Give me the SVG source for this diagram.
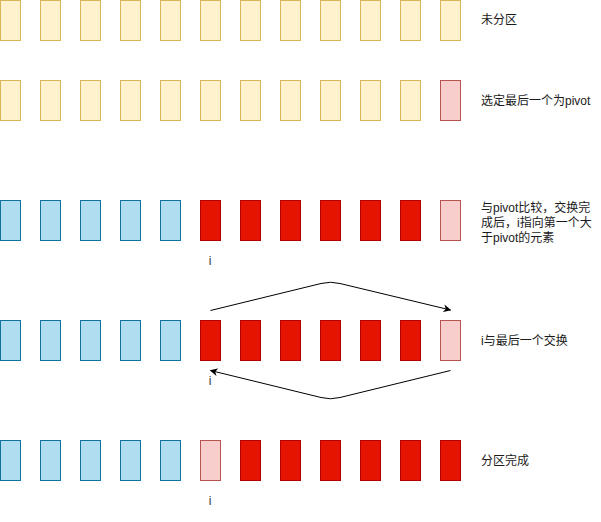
<svg xmlns="http://www.w3.org/2000/svg" width="601" height="522" viewBox="0 0 601 522">
<defs>
<style>
.y{fill:#fff2cc;stroke:#d6b656}
.p{fill:#f8cecc;stroke:#b85450}
.b{fill:#b1ddf0;stroke:#10739e}
.r{fill:#e51400;stroke:#b20000}
rect{stroke-width:1}
.t{font-family:"Liberation Sans","Noto Sans CJK SC",sans-serif;font-size:12px;fill:#1a1a1a}
.i{font-family:"Liberation Sans","Noto Sans CJK SC",sans-serif;font-size:12px;fill:#333;text-anchor:middle}
.c{fill:none;stroke:#000;stroke-width:1}
</style>
<marker id="ah" viewBox="0 0 10 10" refX="9" refY="5" markerWidth="8" markerHeight="8" orient="auto" markerUnits="userSpaceOnUse">
<path d="M0,0 L10,5 L0,10 L3,5 Z" fill="#000"/>
</marker>
</defs>
<g id="row1">
<rect class="y" x="0.5" y="0.5" width="20" height="40"/>
<rect class="y" x="40.5" y="0.5" width="20" height="40"/>
<rect class="y" x="80.5" y="0.5" width="20" height="40"/>
<rect class="y" x="120.5" y="0.5" width="20" height="40"/>
<rect class="y" x="160.5" y="0.5" width="20" height="40"/>
<rect class="y" x="200.5" y="0.5" width="20" height="40"/>
<rect class="y" x="240.5" y="0.5" width="20" height="40"/>
<rect class="y" x="280.5" y="0.5" width="20" height="40"/>
<rect class="y" x="320.5" y="0.5" width="20" height="40"/>
<rect class="y" x="360.5" y="0.5" width="20" height="40"/>
<rect class="y" x="400.5" y="0.5" width="20" height="40"/>
<rect class="y" x="440.5" y="0.5" width="20" height="40"/>
<text class="t" x="481" y="24">未分区</text>
</g>
<g id="row2">
<rect class="y" x="0.5" y="80.5" width="20" height="40"/>
<rect class="y" x="40.5" y="80.5" width="20" height="40"/>
<rect class="y" x="80.5" y="80.5" width="20" height="40"/>
<rect class="y" x="120.5" y="80.5" width="20" height="40"/>
<rect class="y" x="160.5" y="80.5" width="20" height="40"/>
<rect class="y" x="200.5" y="80.5" width="20" height="40"/>
<rect class="y" x="240.5" y="80.5" width="20" height="40"/>
<rect class="y" x="280.5" y="80.5" width="20" height="40"/>
<rect class="y" x="320.5" y="80.5" width="20" height="40"/>
<rect class="y" x="360.5" y="80.5" width="20" height="40"/>
<rect class="y" x="400.5" y="80.5" width="20" height="40"/>
<rect class="p" x="440.5" y="80.5" width="20" height="40"/>
<text class="t" x="481" y="105">选定最后一个为pivot</text>
</g>
<g id="row3">
<rect class="b" x="0.5" y="200.5" width="20" height="40"/>
<rect class="b" x="40.5" y="200.5" width="20" height="40"/>
<rect class="b" x="80.5" y="200.5" width="20" height="40"/>
<rect class="b" x="120.5" y="200.5" width="20" height="40"/>
<rect class="b" x="160.5" y="200.5" width="20" height="40"/>
<rect class="r" x="200.5" y="200.5" width="20" height="40"/>
<rect class="r" x="240.5" y="200.5" width="20" height="40"/>
<rect class="r" x="280.5" y="200.5" width="20" height="40"/>
<rect class="r" x="320.5" y="200.5" width="20" height="40"/>
<rect class="r" x="360.5" y="200.5" width="20" height="40"/>
<rect class="r" x="400.5" y="200.5" width="20" height="40"/>
<rect class="p" x="440.5" y="200.5" width="20" height="40"/>
<text class="i" x="210" y="265">i</text>
<text class="t" x="481" y="212">与pivot比较，交换完</text>
<text class="t" x="481" y="227">成后，i指向第一个大</text>
<text class="t" x="481" y="242">于pivot的元素</text>
</g>
<g id="row4">
<rect class="b" x="0.5" y="320.5" width="20" height="40"/>
<rect class="b" x="40.5" y="320.5" width="20" height="40"/>
<rect class="b" x="80.5" y="320.5" width="20" height="40"/>
<rect class="b" x="120.5" y="320.5" width="20" height="40"/>
<rect class="b" x="160.5" y="320.5" width="20" height="40"/>
<rect class="r" x="200.5" y="320.5" width="20" height="40"/>
<rect class="r" x="240.5" y="320.5" width="20" height="40"/>
<rect class="r" x="280.5" y="320.5" width="20" height="40"/>
<rect class="r" x="320.5" y="320.5" width="20" height="40"/>
<rect class="r" x="360.5" y="320.5" width="20" height="40"/>
<rect class="r" x="400.5" y="320.5" width="20" height="40"/>
<rect class="p" x="440.5" y="320.5" width="20" height="40"/>
<text class="i" x="210" y="385">i</text>
<text class="t" x="481" y="345">i与最后一个交换</text>
</g>
<g id="row5">
<rect class="b" x="0.5" y="440.5" width="20" height="40"/>
<rect class="b" x="40.5" y="440.5" width="20" height="40"/>
<rect class="b" x="80.5" y="440.5" width="20" height="40"/>
<rect class="b" x="120.5" y="440.5" width="20" height="40"/>
<rect class="b" x="160.5" y="440.5" width="20" height="40"/>
<rect class="p" x="200.5" y="440.5" width="20" height="40"/>
<rect class="r" x="240.5" y="440.5" width="20" height="40"/>
<rect class="r" x="280.5" y="440.5" width="20" height="40"/>
<rect class="r" x="320.5" y="440.5" width="20" height="40"/>
<rect class="r" x="360.5" y="440.5" width="20" height="40"/>
<rect class="r" x="400.5" y="440.5" width="20" height="40"/>
<rect class="r" x="440.5" y="440.5" width="20" height="40"/>
<text class="i" x="210" y="505">i</text>
<text class="t" x="481" y="465">分区完成</text>
</g>
<g id="connectors">
<path class="c" d="M210.5,310.5 L321,283.5 Q330.5,281 340,283.5 L450.5,310" marker-end="url(#ah)"/>
<path class="c" d="M450.5,370.5 L340,397.5 Q330.5,400 321,397.5 L210.5,370.5" marker-end="url(#ah)"/>
</g>
</svg>
